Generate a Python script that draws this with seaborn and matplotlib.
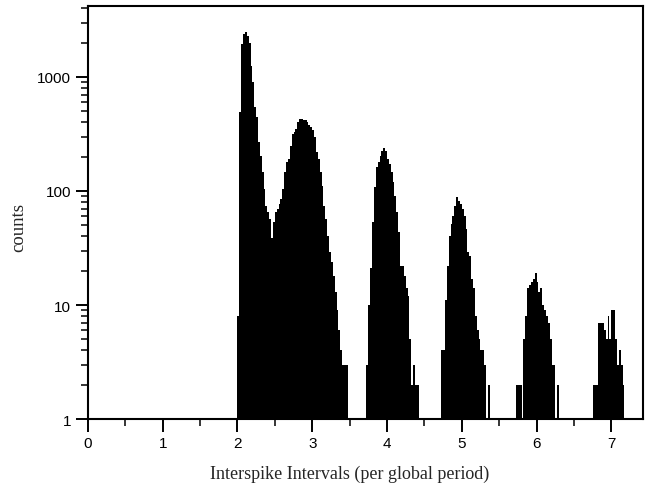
import numpy as np
import pandas as pd
import seaborn as sns
import matplotlib
matplotlib.use("Agg")
import matplotlib.pyplot as plt
from matplotlib.ticker import FixedLocator, LogLocator, NullFormatter

# --- data: counts per 0.025-wide bin, one block per peak (block start on x)
bin_width = 0.025
peak_starts = [2.0, 3.725, 4.725, 5.725, 6.75]
peak_counts = [
    # peaks around 2 and 3
    [8, 490, 1950, 2400, 2500, 2300, 2000, 1250, 910, 550, 445, 270, 204, 147,
     104, 74, 65, 57, 39, 53, 65, 70, 77, 85, 104, 147, 180, 190, 250, 315,
     330, 350, 400, 425, 425, 420, 415, 400, 380, 365, 340, 300, 220, 190,
     147, 110, 74, 57, 40, 29, 24, 18, 13, 9, 6, 4, 3, 3, 3],
    # peak around 4
    [3, 10, 21, 53, 108, 162, 180, 204, 225, 238, 225, 190, 172, 147, 120, 90,
     65, 44, 22, 22, 18, 14, 12, 5, 2, 3, 2, 2],
    # peak around 5
    [4, 4, 11, 22, 40, 51, 60, 74, 88, 82, 77, 69, 60, 46, 29, 27, 17, 14, 8,
     6, 5, 4, 4, 3, 0, 2],
    # peak around 6
    [2, 2, 2, 0, 5, 8, 14, 15, 16, 17, 19, 16, 13, 14, 10, 9, 8, 7, 5, 3, 3,
     0, 2],
    # peak around 7
    [2, 2, 2, 7, 7, 7, 6, 5, 8, 5, 9, 9, 5, 3, 4, 3, 2],
]
x_ticks = [0, 1, 2, 3, 4, 5, 6, 7]
y_ticks = [1, 10, 100, 1000]
y_tick_labels = ["1", "10", "100", "1000"]

rows = []
for start, counts in zip(peak_starts, peak_counts):
    for i, c in enumerate(counts):
        rows.append({"interval": start + bin_width * (i + 0.5), "count": c})
df = pd.DataFrame(rows)
df = df[df["count"] > 0]

edges = [round(bin_width * k, 4) for k in range(int(7.5 / bin_width) + 1)]

# --- plotting
sns.set_style("ticks")
plt.rcParams["font.family"] = ["Liberation Sans", "DejaVu Sans"]
serif = ["Liberation Serif", "DejaVu Serif"]

fig = plt.figure(figsize=(6.46, 4.89), dpi=100)
ax = fig.add_axes([0.136, 0.141, 0.859, 0.845])

sns.histplot(
    data=df, x="interval", weights="count", bins=edges,
    color="black", alpha=1, linewidth=0, antialiased=False, ax=ax,
)
ax.set_yscale("log")
ax.set_ylim(1, 4200)
ax.set_xlim(0, 7.42)

ax.xaxis.set_major_locator(FixedLocator(x_ticks))
ax.xaxis.set_minor_locator(FixedLocator(np.arange(0.5, 7.5, 1.0)))
ax.set_yticks(y_ticks)
ax.set_yticklabels(y_tick_labels)
ax.yaxis.set_minor_locator(LogLocator(base=10, subs=np.arange(2, 10)))
ax.yaxis.set_minor_formatter(NullFormatter())

ax.tick_params(axis="both", which="major", direction="out", length=9,
               width=1.4, labelsize=11, color="black", labelcolor="black")
ax.tick_params(axis="both", which="minor", direction="out", length=5,
               width=1.1, color="black")
ax.tick_params(axis="x", pad=3)
ax.tick_params(axis="y", pad=3)

for side in ["left", "right", "top", "bottom"]:
    ax.spines[side].set_visible(True)
    ax.spines[side].set_color("black")
    ax.spines[side].set_linewidth(1.5)

ax.set_xlabel("Interspike Intervals (per global period)", family=serif,
              fontsize=13)
ax.set_ylabel("counts", family=serif, fontsize=13.5)
ax.xaxis.set_label_coords(0.472, -0.11)
ax.yaxis.set_label_coords(-0.11, 0.465)

fig.savefig("out.png", dpi=100)
